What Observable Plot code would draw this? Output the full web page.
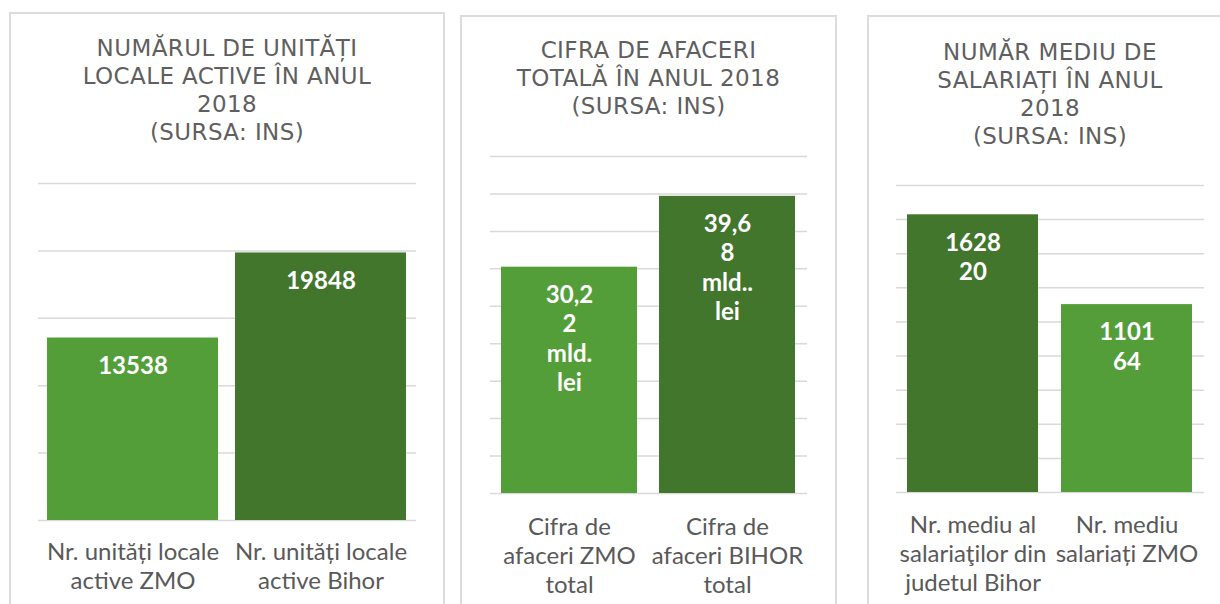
<!DOCTYPE html>
<html>
<head>
<meta charset="utf-8">
<script src="https://cdn.jsdelivr.net/npm/d3@7"></script>
<script src="https://cdn.jsdelivr.net/npm/@observablehq/plot@0.6"></script>
<style>
  html, body { margin: 0; padding: 0; background: #fff; }
  body { width: 1220px; height: 604px; overflow: hidden; position: relative; font-family: Lato, sans-serif; }
  .panel { position: absolute; border: 2px solid #dcdcdc; box-sizing: border-box; background: #fff; }
  .title { position: absolute; width: 420px; text-align: center; font-family: "DejaVu Sans", sans-serif;
           font-size: 23px; letter-spacing: 0.4px; line-height: 28px; color: #5f5f5f; white-space: pre; }
  .chart { position: absolute; top: 150px; }
</style>
</head>
<body>
<script>
// ---------- Data ----------
// Panel 1: number of active local units 2018
const unitsTitle = "NUMĂRUL DE UNITĂȚI\nLOCALE ACTIVE ÎN ANUL\n2018\n(SURSA: INS)";
const unitsCategories = ["Nr. unități locale\nactive ZMO", "Nr. unități locale\nactive Bihor"];
const unitsRegions = ["ZMO", "Bihor"];
const unitsValues = [13538, 19848];
const unitsLabels = ["13538", "19848"];
const unitsGrid = [0, 5000, 10000, 15000, 20000, 25000];

// Panel 2: total turnover 2018 (bn lei)
const turnoverTitle = "CIFRA DE AFACERI\nTOTALĂ ÎN ANUL 2018\n(SURSA: INS)";
const turnoverCategories = ["Cifra de\nafaceri ZMO\ntotal", "Cifra de\nafaceri BIHOR\ntotal"];
const turnoverRegions = ["ZMO", "Bihor"];
const turnoverValues = [30.22, 39.68];
const turnoverLabels = ["30,2\n2\nmld.\nlei", "39,6\n8\nmld..\nlei"];
const turnoverGrid = [0, 5, 10, 15, 20, 25, 30, 35, 40, 45];

// Panel 3: average number of employees 2018
const employeesTitle = "NUMĂR MEDIU DE\nSALARIAȚI ÎN ANUL\n2018\n(SURSA: INS)";
const employeesCategories = ["Nr. mediu al\nsalariaţilor din\njudetul Bihor", "Nr. mediu\nsalariați ZMO"];
const employeesRegions = ["Bihor", "ZMO"];
const employeesValues = [162820, 110164];
const employeesLabels = ["1628\n20", "1101\n64"];
const employeesGrid = [0, 20000, 40000, 60000, 80000, 100000, 120000, 140000, 160000, 180000];

// ---------- Styling / layout ----------
const regionColors = { domain: ["ZMO", "Bihor"], range: ["#549e39", "#42762d"] };
const CHART_TOP = 150, CHART_H = 460, SIDE = 10;

const panels = [
  { box: [9, 12, 436, 640], title: unitsTitle, titleTop: 34, catDy: 19,
    cats: unitsCategories, regions: unitsRegions, values: unitsValues, labels: unitsLabels, grid: unitsGrid,
    gx: [38, 416], yTop: 183, yBase: 520, pi: 0.09, po: 0.048 },
  { box: [460, 15, 377, 640], title: turnoverTitle, titleTop: 36, catDy: 21,
    cats: turnoverCategories, regions: turnoverRegions, values: turnoverValues, labels: turnoverLabels, grid: turnoverGrid,
    gx: [490, 807], yTop: 156, yBase: 493, pi: 0.139, po: 0.07 },
  { box: [867, 15, 380, 640], title: employeesTitle, titleTop: 38, catDy: 20,
    cats: employeesCategories, regions: employeesRegions, values: employeesValues, labels: employeesLabels, grid: employeesGrid,
    gx: [896, 1204], yTop: 185, yBase: 492, pi: 0.148, po: 0.071 }
];

for (const p of panels) {
  const box = document.createElement("div");
  box.className = "panel";
  Object.assign(box.style, { left: p.box[0] + "px", top: p.box[1] + "px", width: p.box[2] + "px", height: p.box[3] + "px" });
  document.body.appendChild(box);

  const t = document.createElement("div");
  t.className = "title";
  t.textContent = p.title;
  const cx = (p.gx[0] + p.gx[1]) / 2;
  Object.assign(t.style, { left: (cx - 210) + "px", top: p.titleTop + "px" });
  document.body.appendChild(t);

  const data = p.cats.map((c, i) => ({ cat: c, region: p.regions[i], value: p.values[i], label: p.labels[i] }));
  const gridW = p.gx[1] - p.gx[0];
  const marginTop = p.yTop - CHART_TOP;
  const marginBottom = CHART_H - (p.yBase - CHART_TOP);

  const chart = Plot.plot({
    width: gridW + 2 * SIDE,
    height: CHART_H,
    marginLeft: SIDE, marginRight: SIDE, marginTop, marginBottom,
    style: { background: "transparent", overflow: "visible", fontFamily: "Lato" },
    x: { domain: p.cats, axis: null, paddingInner: p.pi, paddingOuter: p.po },
    y: { domain: [0, p.grid[p.grid.length - 1]], axis: null },
    color: regionColors,
    marks: [
      Plot.ruleY(p.grid, { stroke: "#d9d9d9", strokeWidth: 1.5 }),
      Plot.barY(data, { x: "cat", y: "value", fill: "region" }),
      Plot.text(data, { x: "cat", y: "value", text: "label", fill: "white", fontWeight: "bold",
                        fontSize: 24, lineAnchor: "top", lineHeight: 1.22, dy: 15, fontFamily: "Lato" }),
      Plot.text(data, { x: "cat", y: 0, text: "cat", fill: "#595959", fontSize: 24,
                        lineAnchor: "top", lineHeight: 1.2, dy: p.catDy, fontFamily: "Lato" })
    ]
  });
  chart.classList.add("chart");
  chart.style.left = (p.gx[0] - SIDE) + "px";
  chart.style.top = CHART_TOP + "px";
  chart.style.position = "absolute";
  document.body.appendChild(chart);
}
</script>
</body>
</html>
